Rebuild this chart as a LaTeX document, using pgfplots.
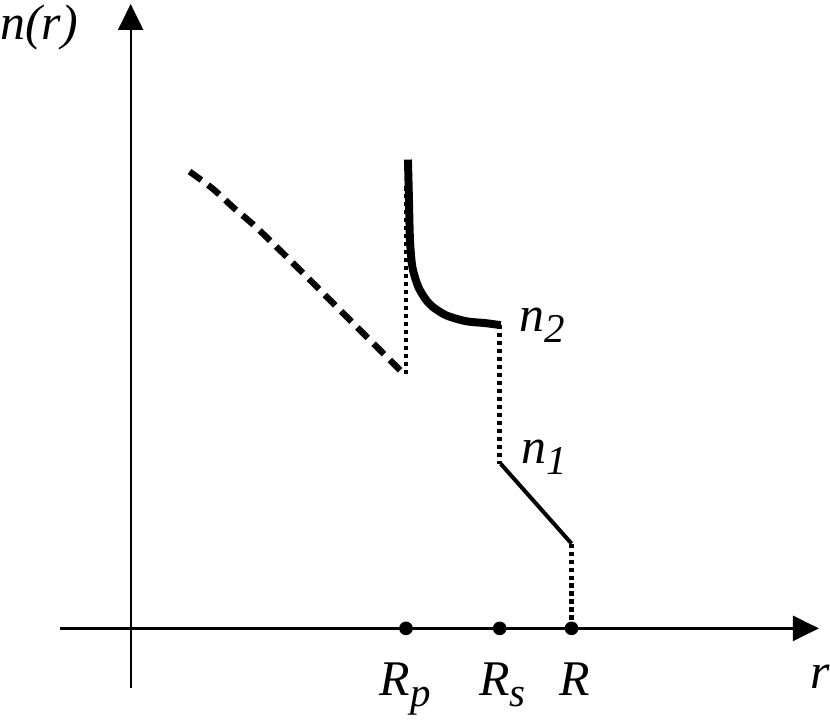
\documentclass[border=0pt]{standalone}
\usepackage{pgfplots}
\pgfplotsset{compat=1.18}
\usepackage{fontspec}
\setmainfont{Liberation Serif}
\usetikzlibrary{arrows.meta}
\newcommand{\sub}[1]{\raisebox{-3.3pt}{\fontsize{12.3}{14}\selectfont\itshape #1}}
\newcommand{\lab}{\fontsize{15}{17}\selectfont\itshape}
\begin{document}
\begin{tikzpicture}
\begin{axis}[
  x=0.3pt, y=0.3pt,
  xmin=-71, xmax=690, ymin=-60, ymax=626,
  axis lines=middle,
  axis line style={line width=0.7pt, -{Triangle[length=7.8pt,width=7.5pt]}},
  xtick=\empty, ytick=\empty,
  clip=false,
]
% invisible frame of the picture
\path (axis cs:-131,-93) rectangle (axis cs:699,630);
% dashed part
\addplot[black, line width=1.9pt, dash pattern={on 4.4pt off 2.5pt}, smooth, tension=0.5] coordinates {
(59,458) (82,441) (104,421) (126,402) (166,363) (206,323) (246,283) (274,255)};
% dotted verticals
\addplot[black, line width=1.35pt, dash pattern={on 1.25pt off 1.15pt}] coordinates {(276,255) (276,447)};
\addplot[black, line width=1.35pt, dash pattern={on 1.25pt off 1.15pt}] coordinates {(370,304) (370,165)};
\addplot[black, line width=1.35pt, dash pattern={on 1.25pt off 1.15pt}] coordinates {(442,85) (442,0)};
% thick curve
\addplot[black, line width=2.4pt, smooth, tension=0.5] coordinates {
(278,470) (279,430) (280,390) (282,365) (285,352) (289,341) (295,331) (302,323) (316,314) (336,308) (356,306) (371,304)};
% n1 segment
\addplot[black, line width=1.2pt] coordinates {(371,165) (442,85)};
% points on axis
\addplot[only marks, mark=*, mark size=1.85pt, black] coordinates {(276,0) (370,0) (442,0)};
% labels
\node[anchor=base, inner sep=0pt] at (axis cs:-92,590) {\lab n(r)};
\node[anchor=base west, inner sep=0pt] at (axis cs:389,298) {\lab n\sub{2}};
\node[anchor=base west, inner sep=0pt] at (axis cs:391,165) {\lab n\sub{1}};
\node[anchor=base west, inner sep=0pt] at (axis cs:249,-67) {\lab R\sub{p}};
\node[anchor=base west, inner sep=0pt] at (axis cs:349,-67) {\lab R\sub{s}};
\node[anchor=base west, inner sep=0pt] at (axis cs:429,-67) {\lab R};
\node[anchor=base west, inner sep=0pt] at (axis cs:681,-60) {\lab r};
\end{axis}
\end{tikzpicture}
\end{document}
